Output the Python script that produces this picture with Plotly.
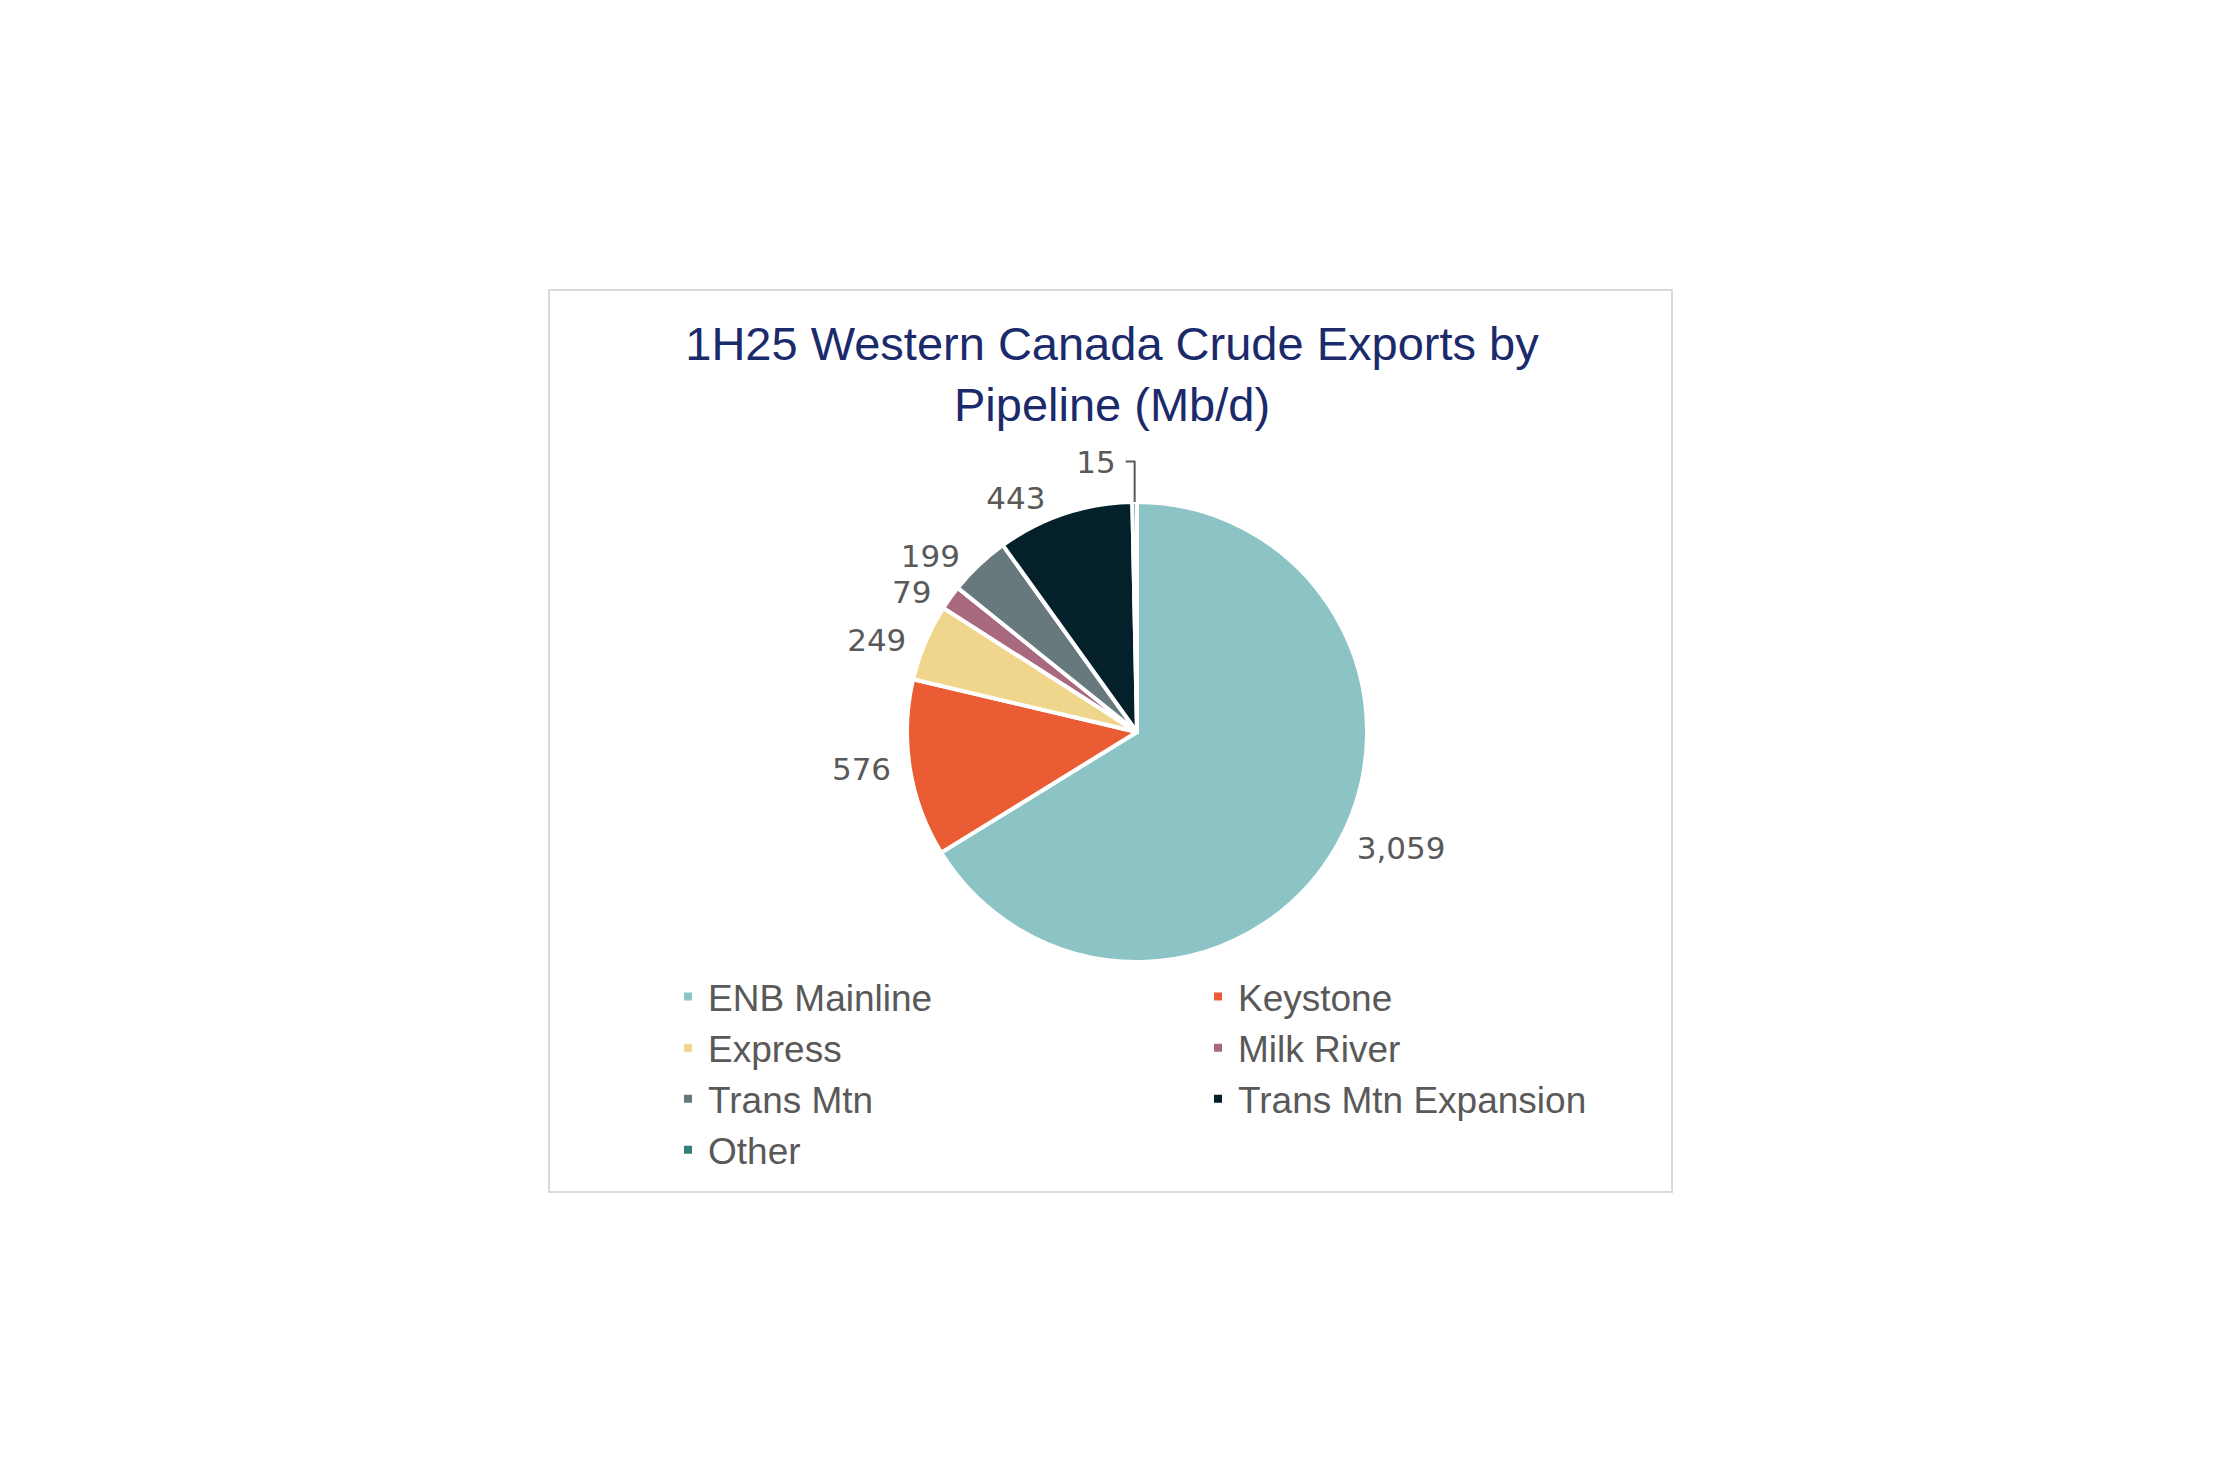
import plotly.graph_objects as go

pipelines = ["ENB Mainline", "Keystone", "Express", "Milk River", "Trans Mtn",
             "Trans Mtn Expansion", "Other"]
volumes = [3059, 576, 249, 79, 199, 443, 15]
colors = ["#8CC3C4", "#E95C34", "#F0D58C", "#A8687F", "#67797D", "#04212B", "#2F7F80"]
title_text = "1H25 Western Canada Crude Exports by<br>Pipeline (Mb/d)"

W, H = 2220, 1480
off = 8  # default page body margin
box_l, box_r, box_t, box_b = 549 - off, 1672 - off, 290 - off, 1192 - off
pw, ph = box_r - box_l, box_b - box_t
cx, cy, rad = 1137 - off, 732 - off, 230

pad = "\u00a0"
fig = go.Figure(go.Pie(
    labels=pipelines,
    values=volumes,
    sort=False,
    direction="clockwise",
    rotation=0,
    marker=dict(colors=colors, line=dict(color="white", width=4)),
    textposition="outside",
    texttemplate=pad + "%{value:,}" + pad,
    textfont=dict(family="DejaVu Sans", size=31, color="#595959"),
    hoverinfo="label+value",
    domain=dict(x=[(cx - rad - box_l) / pw, (cx + rad - box_l) / pw],
                y=[1 - (cy + rad - box_t) / ph, 1 - (cy - rad - box_t) / ph]),
))

fig.update_layout(
    width=W, height=H,
    margin=dict(l=box_l, r=W - box_r, t=box_t, b=H - box_b, autoexpand=False),
    paper_bgcolor="white", plot_bgcolor="white",
    title=dict(text=title_text, x=(1112 - off) / W, xanchor="center",
               y=1 - (360 - off) / H, yanchor="middle", yref="container",
               font=dict(family="Liberation Sans", size=47, color="#1B2A6B")),
    legend=dict(orientation="h", x=(668 - box_l - off) / pw, xanchor="left",
                y=1 - (966 - off - box_t) / ph, yanchor="top",
                entrywidth=485, entrywidthmode="pixels",
                font=dict(family="Liberation Sans", size=37, color="#595959"),
                bgcolor="rgba(0,0,0,0)"),
    shapes=[dict(type="rect", xref="paper", yref="paper", x0=0, x1=1, y0=0, y1=1,
                 line=dict(color="#D9D9D9", width=2), fillcolor="rgba(0,0,0,0)", layer="below")],
)

fig.write_html("out.html")
